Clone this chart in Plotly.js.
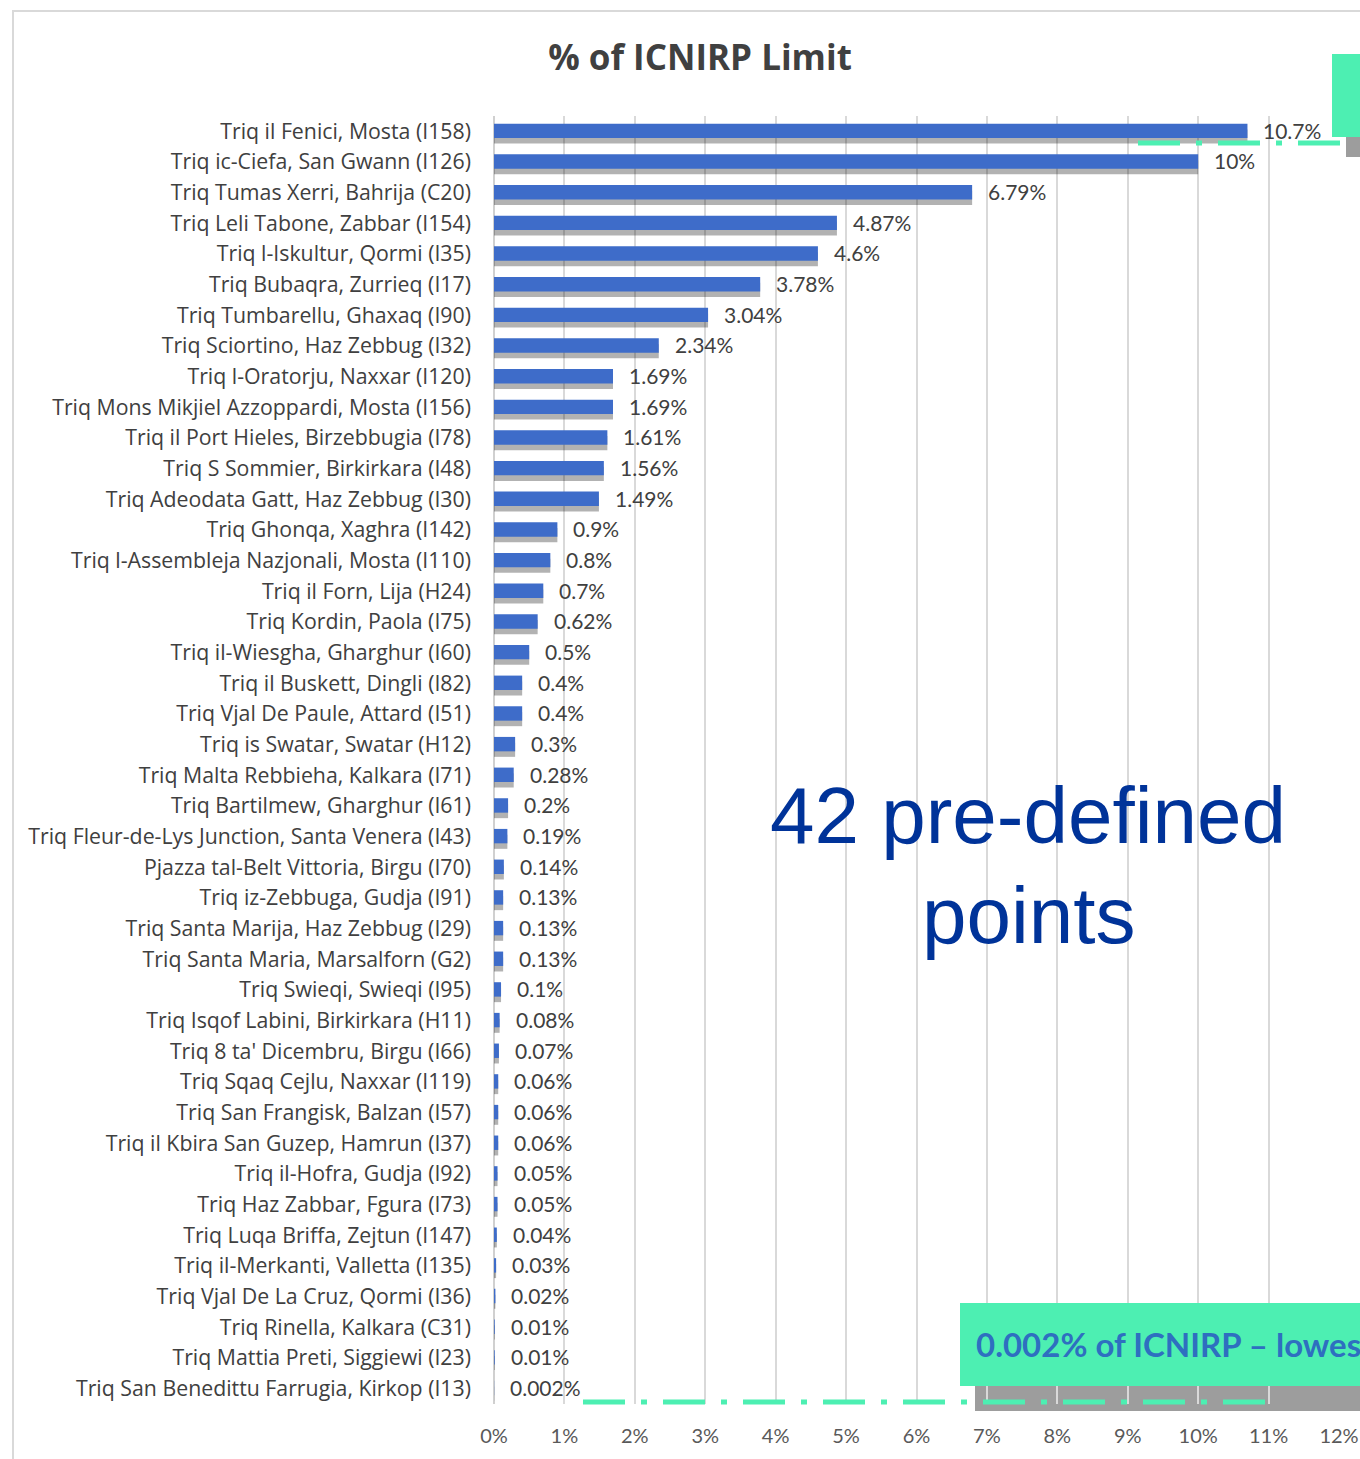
<!DOCTYPE html>
<html>
<head>
<meta charset="utf-8">
<script src="https://cdn.plot.ly/plotly-3.0.1.min.js"></script>
<style>
html,body{margin:0;padding:0;background:#fff;overflow:hidden;}
#wrap{position:relative;width:1360px;height:1459px;}
#chart{position:absolute;left:0;top:0;width:1360px;height:1459px;}
#frame{position:absolute;left:12px;top:10px;width:1360px;height:1460px;border-left:2px solid #D9D9D9;border-top:2px solid #D9D9D9;pointer-events:none;}
</style>
</head>
<body>
<div id="wrap">
<div id="chart"></div>
<div id="frame"></div>
</div>
<script>
const sites = [
"Triq il Fenici, Mosta (I158)",
"Triq ic-Ciefa, San Gwann (I126)",
"Triq Tumas Xerri, Bahrija (C20)",
"Triq Leli Tabone, Zabbar (I154)",
"Triq l-Iskultur, Qormi (I35)",
"Triq Bubaqra, Zurrieq (I17)",
"Triq Tumbarellu, Ghaxaq (I90)",
"Triq Sciortino, Haz Zebbug (I32)",
"Triq l-Oratorju, Naxxar (I120)",
"Triq Mons Mikjiel Azzoppardi, Mosta (I156)",
"Triq il Port Hieles, Birzebbugia (I78)",
"Triq S Sommier, Birkirkara (I48)",
"Triq Adeodata Gatt, Haz Zebbug (I30)",
"Triq Ghonqa, Xaghra (I142)",
"Triq l-Assembleja Nazjonali, Mosta (I110)",
"Triq il Forn, Lija (H24)",
"Triq Kordin, Paola (I75)",
"Triq il-Wiesgha, Gharghur (I60)",
"Triq il Buskett, Dingli (I82)",
"Triq Vjal De Paule, Attard (I51)",
"Triq is Swatar, Swatar (H12)",
"Triq Malta Rebbieha, Kalkara (I71)",
"Triq Bartilmew, Gharghur (I61)",
"Triq Fleur-de-Lys Junction, Santa Venera (I43)",
"Pjazza tal-Belt Vittoria, Birgu (I70)",
"Triq iz-Zebbuga, Gudja (I91)",
"Triq Santa Marija, Haz Zebbug (I29)",
"Triq Santa Maria, Marsalforn (G2)",
"Triq Swieqi, Swieqi (I95)",
"Triq Isqof Labini, Birkirkara (H11)",
"Triq 8 ta' Dicembru, Birgu (I66)",
"Triq Sqaq Cejlu, Naxxar (I119)",
"Triq San Frangisk, Balzan (I57)",
"Triq il Kbira San Guzep, Hamrun (I37)",
"Triq il-Hofra, Gudja (I92)",
"Triq Haz Zabbar, Fgura (I73)",
"Triq Luqa Briffa, Zejtun (I147)",
"Triq il-Merkanti, Valletta (I135)",
"Triq Vjal De La Cruz, Qormi (I36)",
"Triq Rinella, Kalkara (C31)",
"Triq Mattia Preti, Siggiewi (I23)",
"Triq San Benedittu Farrugia, Kirkop (I13)"
];
const pctOfLimit = [10.7, 10, 6.79, 4.87, 4.6, 3.78, 3.04, 2.34, 1.69, 1.69, 1.61, 1.56, 1.49,
  0.9, 0.8, 0.7, 0.62, 0.5, 0.4, 0.4, 0.3, 0.28, 0.2, 0.19, 0.14, 0.13, 0.13, 0.13, 0.1,
  0.08, 0.07, 0.06, 0.06, 0.06, 0.05, 0.05, 0.04, 0.03, 0.02, 0.01, 0.01, 0.002];
const valueLabels = ["10.7%","10%","6.79%","4.87%","4.6%","3.78%","3.04%","2.34%","1.69%","1.69%",
  "1.61%","1.56%","1.49%","0.9%","0.8%","0.7%","0.62%","0.5%","0.4%","0.4%","0.3%","0.28%",
  "0.2%","0.19%","0.14%","0.13%","0.13%","0.13%","0.1%","0.08%","0.07%","0.06%","0.06%",
  "0.06%","0.05%","0.05%","0.04%","0.03%","0.02%","0.01%","0.01%","0.002%"];
const xTickVals = [0,1,2,3,4,5,6,7,8,9,10,11,12];
const xTickText = ["0%","1%","2%","3%","4%","5%","6%","7%","8%","9%","10%","11%","12%"];
const chartTitle = "% of ICNIRP Limit";
const calloutLines = ["42 pre-defined", "points"];
const lowestNote = "0.002% of ICNIRP \u2013 lowest";

const W = 1360, H = 1459;
const M = {l: 494, r: 21, t: 116, b: 55};
const PW = W - M.l - M.r, PH = H - M.t - M.b;
const px = x => (x - M.l) / PW;
const py = y => (H - M.b - y) / PH;

const FONT = "'Open Sans', Lato, sans-serif";
const NUMFONT = "Lato, 'Open Sans', sans-serif";
const GREEN = "#4DEFB2";
const DASH = "42px,16px,6px,16px";

const shadow = {
  type: "bar", orientation: "h", x: pctOfLimit, y: sites,
  width: 0.46, offset: -0.06,
  marker: {color: "rgba(0,0,0,0.3)", line: {width: 0}},
  hoverinfo: "skip", showlegend: false
};
const bars = {
  type: "bar", orientation: "h", x: pctOfLimit, y: sites,
  width: 0.47, offset: -0.25,
  marker: {color: "rgb(62,108,201)", line: {width: 0}},
  showlegend: false
};

const annotations = pctOfLimit.map((v, i) => ({
  x: v, y: sites[i], xref: "x", yref: "y", text: valueLabels[i],
  xanchor: "left", yanchor: "middle", xshift: 14, yshift: 1, showarrow: false,
  font: {family: NUMFONT, size: 21, color: "#404040"}
}));
annotations.push({
  x: px(1028), y: py(815), xref: "paper", yref: "paper", text: calloutLines[0],
  showarrow: false, xanchor: "center", yanchor: "middle",
  font: {family: "'Liberation Sans', Arial, sans-serif", size: 80, color: "#003399"}
});
annotations.push({
  x: px(1028), y: py(915), xref: "paper", yref: "paper", text: calloutLines[1],
  showarrow: false, xanchor: "center", yanchor: "middle",
  font: {family: "'Liberation Sans', Arial, sans-serif", size: 80, color: "#003399"}
});
annotations.push({
  x: px(974), y: py(1344), xref: "paper", yref: "paper", text: "<b>" + lowestNote + "</b>",
  showarrow: false, xanchor: "left", yanchor: "middle",
  font: {family: NUMFONT, size: 33, color: "#2E6FC0"}
});

const shapes = [
  {type: "rect", xref: "paper", yref: "paper", x0: px(1346), x1: px(1380), y0: py(137), y1: py(157),
   fillcolor: "rgba(60,60,60,0.5)", line: {width: 0}, layer: "above"},
  {type: "rect", xref: "paper", yref: "paper", x0: px(1332), x1: px(1380), y0: py(54), y1: py(137),
   fillcolor: GREEN, line: {width: 0}, layer: "above"},
  {type: "line", xref: "paper", yref: "paper", x0: px(1138), x1: px(1342), y0: py(143), y1: py(143),
   line: {color: GREEN, width: 5, dash: DASH}, layer: "above"},
  {type: "rect", xref: "paper", yref: "paper", x0: px(975), x1: px(1380), y0: py(1386), y1: py(1411),
   fillcolor: "rgba(60,60,60,0.5)", line: {width: 0}, layer: "below"},
  {type: "rect", xref: "paper", yref: "paper", x0: px(960), x1: px(1380), y0: py(1303), y1: py(1386),
   fillcolor: GREEN, line: {width: 0}, layer: "above"},
  {type: "line", xref: "paper", yref: "paper", x0: px(583), x1: px(1266), y0: py(1402), y1: py(1402),
   line: {color: GREEN, width: 5, dash: DASH}, layer: "above"}
];

const layout = {
  width: W, height: H,
  margin: M,
  paper_bgcolor: "#fff", plot_bgcolor: "rgba(0,0,0,0)",
  barmode: "overlay",
  title: {text: "<b>" + chartTitle + "</b>", x: 700 / W, xref: "container", xanchor: "center",
          y: 1 - 58 / H, yref: "container", yanchor: "middle",
          font: {family: FONT, size: 35, color: "#404040"}},
  xaxis: {range: [0, 12], tickvals: xTickVals, ticktext: xTickText,
          showgrid: true, gridcolor: "#D9D9D9", gridwidth: 2,
          zeroline: true, zerolinecolor: "#D0D0D0", zerolinewidth: 2,
          showline: false, ticks: "", ticklabelstandoff: 18,
          tickfont: {family: NUMFONT, size: 20, color: "#595959"}, fixedrange: true},
  yaxis: {type: "category", autorange: "reversed", categoryorder: "array", categoryarray: sites,
          showgrid: false, zeroline: false, showline: false, ticks: "", ticklabelstandoff: 22,
          tickfont: {family: FONT, size: 21.3, color: "#404040"}, fixedrange: true},
  annotations: annotations,
  shapes: shapes,
  font: {family: FONT}
};

Plotly.newPlot("chart", [shadow, bars], layout, {displayModeBar: false, staticPlot: true});
</script>
</body>
</html>
